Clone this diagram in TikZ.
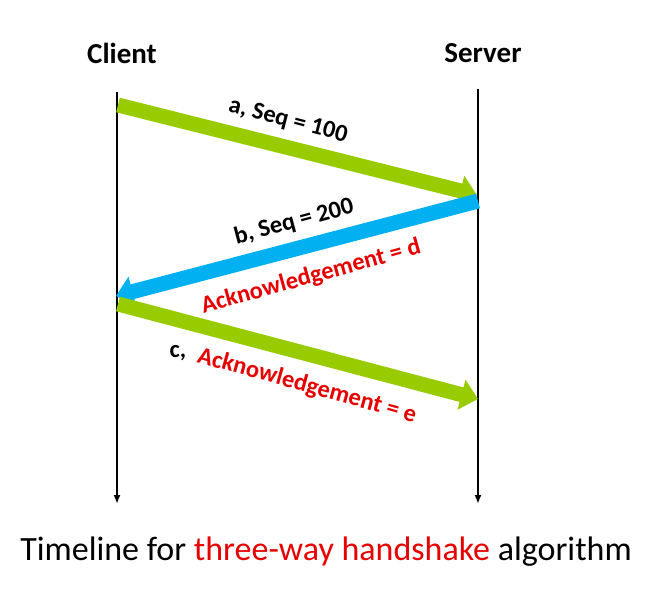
\documentclass[tikz,border=0pt]{standalone}
\usepackage{fontspec}
\setmainfont{Carlito}
\usetikzlibrary{arrows.meta}
\definecolor{pktgreen}{HTML}{99CC00}
\definecolor{pktblue}{HTML}{00B0F0}
\definecolor{lblred}{HTML}{E60000}
\begin{document}
\begin{tikzpicture}[x=1pt,y=-1pt,
  timeline/.style={line width=2.2pt,-{Latex[length=9pt,width=7pt]}},
  packet/.style={line width=15pt,-{Triangle[length=17pt,width=30pt]}},
  head/.style={font=\bfseries\fontsize{29}{32}\selectfont},
  lbl/.style={font=\bfseries\fontsize{24.5}{28}\selectfont,inner sep=0pt},
  redlbl/.style={lbl,text=lblred}]
\useasboundingbox[fill=white] (0,0) rectangle (657,592);
% headings
\node[head] (client) at (122,53) {Client};
\node[head] (server) at (483,53) {Server};
% timelines
\coordinate (ctop) at (117,92);
\coordinate (cbot) at (117,504);
\coordinate (stop) at (478,89);
\coordinate (sbot) at (478,504);
\draw[timeline] (ctop) -- (cbot);
\draw[timeline] (stop) -- (sbot);
% packets
\coordinate (a0) at (118,105);
\coordinate (a1) at (477,195);
\coordinate (b0) at (478,201);
\coordinate (b1) at (116,296);
\coordinate (c0) at (118,304);
\coordinate (c1) at (478,399);
\draw[packet,pktgreen] (a0) -- (a1);
\draw[packet,pktblue] (b0) -- (b1);
\draw[packet,pktgreen] (c0) -- (c1);
% labels
\node[lbl,rotate=-14.5] (la) at (288,121) {a, Seq = 100};
\node[lbl,rotate=15] (lb) at (294,222) {b, Seq = 200};
\node[redlbl,rotate=15.5] (ld) at (311,277) {Acknowledgement = d};
\node[lbl] (lc) at (178,353) {c,};
\node[redlbl,rotate=-15.5] (le) at (307,386) {Acknowledgement = e};
% caption
\node[font=\fontsize{34}{40}\selectfont] (cap) at (326,552)
  {Timeline for \textcolor{lblred}{three-way handshake} algorithm};
\end{tikzpicture}
\end{document}
